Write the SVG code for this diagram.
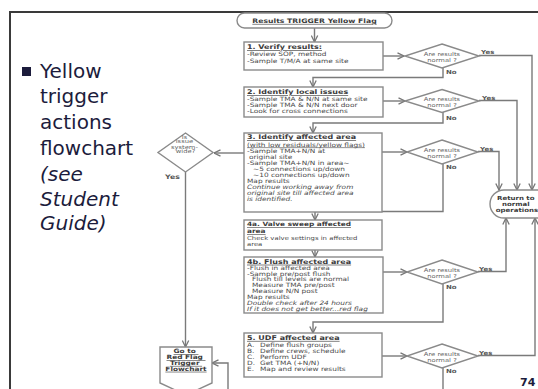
<svg xmlns="http://www.w3.org/2000/svg" width="538" height="389" viewBox="0 0 538 389">
  <defs>
    <marker id="ah" viewBox="0 0 8 8" refX="7.5" refY="4" markerWidth="8" markerHeight="8" markerUnits="userSpaceOnUse" orient="auto">
      <path d="M1,0.8 L7.5,4 L1,7.2" fill="none" stroke="#777" stroke-width="1.3"/>
    </marker>
    <style>
      .frame { stroke: #3a3a3a; stroke-width: 2; fill: none; }
      .box { fill: #fff; stroke: #8a8a8a; stroke-width: 1.4; }
      .ln { fill: none; stroke: #7a7a7a; stroke-width: 1.4; marker-end: url(#ah); }
      .ft { font-family: "DejaVu Sans", Verdana, sans-serif; font-size: 7.4px; fill: #4a4a4a; }
      .hd { font-weight: bold; text-decoration: underline; font-size: 8px; fill: #3a3a3a; }
      .u { text-decoration: underline; }
      .it { font-style: italic; }
      .dt { font-size: 6.8px; text-anchor: middle; fill: #666; }
      .lab { font-weight: bold; font-size: 7px; fill: #555; }
      .bul { font-family: "DejaVu Sans", Verdana, sans-serif; font-size: 20px; fill: #1c1c3c; }
    </style>
  </defs>

  <rect width="538" height="389" fill="#fff"/>

  <!-- slide frame -->
  <path class="frame" d="M10,389 V12 H538"/>

  <!-- bullet text -->
  <g id="bullet">
    <rect x="22" y="67" width="9" height="9" fill="#1c1c3c"/>
    <text class="bul">
      <tspan x="40" y="78">Yellow</tspan>
      <tspan x="40" y="103">trigger</tspan>
      <tspan x="40" y="129">actions</tspan>
      <tspan x="40" y="155">flowchart</tspan>
      <tspan x="40" y="181" font-style="italic">(see</tspan>
      <tspan x="40" y="206" font-style="italic">Student</tspan>
      <tspan x="40" y="230" font-style="italic">Guide)</tspan>
    </text>
  </g>

  <!-- connectors -->
  <g id="connectors">
    <path class="ln" d="M314.5,28 V42"/>
    <path class="ln" d="M383,56 H404"/>
    <path class="ln" d="M479,55.5 H532 V190"/>
    <path class="ln" d="M443,68 V77.5 H313 V87"/>
    <path class="ln" d="M383,101 H405"/>
    <path class="ln" d="M479,100.5 H517 V190"/>
    <path class="ln" d="M443,112 V123 H313 V133"/>
    <path class="ln" d="M382,152 H407"/>
    <path class="ln" d="M478,151.5 H499 V190"/>
    <path class="ln" d="M443,164 V211.5 H315 V220"/>
    <path class="ln" d="M244,153 H214"/>
    <path class="ln" d="M185.5,172 V347"/>
    <path class="ln" d="M315,250 V257"/>
    <path class="ln" d="M383,272 H407"/>
    <path class="ln" d="M478,271.5 H506 V218"/>
    <path class="ln" d="M443,284 V322 H313 V333"/>
    <path class="ln" d="M382,356 H407"/>
    <path class="ln" d="M478,355.5 H535 V218"/>
    <path class="ln" d="M443,368 V389" style="marker-end:none"/>
    <path class="ln" d="M228,389 V363 H212"/>
  </g>

  <!-- connector labels -->
  <g id="labels" class="ft">
    <text class="lab" transform="translate(481,54) scale(1,0.8)">Yes</text>
    <text class="lab" transform="translate(446,74) scale(1,0.8)">No</text>
    <text class="lab" transform="translate(482,99.5) scale(1,0.8)">Yes</text>
    <text class="lab" transform="translate(446,119.5) scale(1,0.8)">No</text>
    <text class="lab" transform="translate(480,150.5) scale(1,0.8)">Yes</text>
    <text class="lab" transform="translate(446,169) scale(1,0.8)">No</text>
    <text class="lab" transform="translate(165,179) scale(1,0.8)" style="font-size:7.8px">Yes</text>
    <text class="lab" transform="translate(479,270.5) scale(1,0.8)">Yes</text>
    <text class="lab" transform="translate(446,289) scale(1,0.8)">No</text>
    <text class="lab" transform="translate(479,354.5) scale(1,0.8)">Yes</text>
    <text class="lab" transform="translate(446,373) scale(1,0.8)">No</text>
  </g>

  <!-- start -->
  <g id="start">
    <rect class="box" x="237" y="13" width="155" height="15" rx="7.5"/>
    <text class="ft hd" text-anchor="middle" transform="translate(314.5,13) scale(1,0.8)" style="font-size:7.7px"><tspan x="0" y="12.5">Results TRIGGER Yellow Flag</tspan></text>
  </g>

  <!-- step 1 -->
  <g id="step1">
    <rect class="box" x="244" y="42" width="139" height="28"/>
    <text class="ft" transform="translate(244,42) scale(1,0.8)">
      <tspan class="hd" x="3" y="9">1. Verify results:</tspan>
      <tspan x="3" y="17.5">-Review SOP, method</tspan>
      <tspan x="3" y="26">-Sample T/M/A at same site</tspan>
    </text>
  </g>
  <g id="check1">
    <polygon class="box" points="442,44 479,56 442,68 405,56"/>
    <text class="ft dt" transform="translate(442,56) scale(1,0.8)"><tspan x="0" y="-0.6">Are results</tspan><tspan x="0" y="6.9">normal ?</tspan></text>
  </g>

  <!-- step 2 -->
  <g id="step2">
    <rect class="box" x="244" y="87" width="139" height="30"/>
    <text class="ft" transform="translate(244,87) scale(1,0.8)">
      <tspan class="hd" x="3" y="9">2. Identify local issues</tspan>
      <tspan x="3" y="17.5">-Sample TMA &amp; N/N at same site</tspan>
      <tspan x="3" y="25">-Sample TMA &amp; N/N next door</tspan>
      <tspan x="3" y="32">-Look for cross connections</tspan>
    </text>
  </g>
  <g id="check2">
    <polygon class="box" points="442,89.5 479,101 442,112.5 405,101"/>
    <text class="ft dt" transform="translate(442,101) scale(1,0.8)"><tspan x="0" y="-0.6">Are results</tspan><tspan x="0" y="6.9">normal ?</tspan></text>
  </g>

  <!-- step 3 -->
  <g id="step3">
    <rect class="box" x="244" y="133" width="138" height="79"/>
    <text class="ft" transform="translate(244,133) scale(1,0.8)">
      <tspan class="hd" x="3" y="8">3. Identify affected area</tspan>
      <tspan class="u" x="3" y="17">(with low residuals/yellow flags)</tspan>
      <tspan x="3" y="24.5">-Sample TMA+N/N at</tspan>
      <tspan x="5" y="32">original site</tspan>
      <tspan x="3" y="39.5">-Sample TMA+N/N in area~</tspan>
      <tspan x="9" y="47">~5 connections up/down</tspan>
      <tspan x="9" y="54.5">~10 connections up/down</tspan>
      <tspan x="3" y="62">Map results</tspan>
      <tspan class="it" x="3" y="69.5">Continue working away from</tspan>
      <tspan class="it" x="3" y="77">original site till affected area</tspan>
      <tspan class="it" x="3" y="84.5">is identified.</tspan>
    </text>
  </g>
  <g id="check3">
    <polygon class="box" points="442,140 478,152 442,164 407,152"/>
    <text class="ft dt" transform="translate(442,152) scale(1,0.8)"><tspan x="0" y="-0.6">Are results</tspan><tspan x="0" y="6.9">normal ?</tspan></text>
  </g>

  <!-- system-wide decision -->
  <g id="systemwide">
    <polygon class="box" points="185.5,133 213,152.5 185.5,172 158,152.5"/>
    <text class="ft dt" transform="translate(185.5,133) scale(1,0.8)">
      <tspan x="0" y="6.9">Is</tspan>
      <tspan x="0" y="13.1">issue</tspan>
      <tspan x="0" y="19.4">system-</tspan>
      <tspan x="0" y="25.3">wide?</tspan>
    </text>
  </g>

  <!-- step 4a -->
  <g id="step4a">
    <rect class="box" x="244" y="220" width="138" height="30"/>
    <text class="ft" transform="translate(244,220) scale(1,0.8)" style="font-size:6.9px">
      <tspan class="hd" x="3" y="8.1" style="font-size:7.4px">4a. Valve sweep affected</tspan>
      <tspan class="hd" x="3" y="16.4" style="font-size:7.4px">area</tspan>
      <tspan x="3" y="24.7">Check valve settings in affected</tspan>
      <tspan x="3" y="33">area</tspan>
    </text>
  </g>

  <!-- step 4b -->
  <g id="step4b">
    <rect class="box" x="244" y="257" width="139" height="56"/>
    <text class="ft" transform="translate(244,257) scale(1,0.8)">
      <tspan class="hd" x="3" y="8.5">4b. Flush affected area</tspan>
      <tspan x="3" y="16">-Flush in affected area</tspan>
      <tspan x="3" y="23.3">-Sample pre/post flush</tspan>
      <tspan x="8" y="30.6">Flush till levels are normal</tspan>
      <tspan x="8" y="37.9">Measure TMA pre/post</tspan>
      <tspan x="8" y="45.2">Measure N/N post</tspan>
      <tspan x="3" y="52.5">Map results</tspan>
      <tspan class="it" x="3" y="59.8">Double check after 24 hours</tspan>
      <tspan class="it" x="3" y="67.1">If it does not get better...red flag</tspan>
    </text>
  </g>
  <g id="check4b">
    <polygon class="box" points="442,260 478,272 442,284 407,272"/>
    <text class="ft dt" transform="translate(442,272) scale(1,0.8)"><tspan x="0" y="-0.6">Are results</tspan><tspan x="0" y="6.9">normal ?</tspan></text>
  </g>

  <!-- step 5 -->
  <g id="step5">
    <rect class="box" x="244" y="333" width="138" height="44"/>
    <text class="ft" transform="translate(244,333) scale(1,0.8)">
      <tspan class="hd" x="3" y="8.75">5. UDF affected area</tspan>
      <tspan x="3" y="17.5">A.</tspan><tspan x="16" y="17.5">Define flush groups</tspan>
      <tspan x="3" y="25">B.</tspan><tspan x="16" y="25">Define crews, schedule</tspan>
      <tspan x="3" y="32.5">C.</tspan><tspan x="16" y="32.5">Perform UDF</tspan>
      <tspan x="3" y="40">D.</tspan><tspan x="16" y="40">Get TMA (+N/N)</tspan>
      <tspan x="3" y="47.5">E.</tspan><tspan x="16" y="47.5">Map and review results</tspan>
    </text>
  </g>
  <g id="check5">
    <polygon class="box" points="442,344 478,356 442,368 407,356"/>
    <text class="ft dt" transform="translate(442,356) scale(1,0.8)"><tspan x="0" y="-0.6">Are results</tspan><tspan x="0" y="6.9">normal ?</tspan></text>
  </g>

  <!-- off-page connector -->
  <g id="redflag">
    <polygon class="box" points="160,347 212,347 212,383 186,395 160,383"/>
    <text class="ft hd" text-anchor="middle" transform="translate(186,347) scale(1,0.8)" style="font-size:7.4px">
      <tspan x="0" y="8.1">Go to</tspan>
      <tspan x="0" y="15.2">Red Flag</tspan>
      <tspan x="0" y="22.5">Trigger</tspan>
      <tspan x="0" y="29.8">Flowchart</tspan>
    </text>
  </g>

  <!-- end -->
  <g id="return">
    <rect class="box" x="490" y="190" width="62" height="28" rx="14"/>
    <text class="ft" text-anchor="middle" font-weight="bold" transform="translate(517,190) scale(1,0.8)" style="font-size:7px;fill:#3a3a3a">
      <tspan x="0" y="13.1">Return to</tspan>
      <tspan x="0" y="20">normal</tspan>
      <tspan x="0" y="27.5">operations</tspan>
    </text>
  </g>

  <!-- page number -->
  <text x="520" y="386" font-family="DejaVu Sans, Verdana, sans-serif" font-size="11" font-weight="bold" fill="#1c1c3c">74</text>
</svg>
